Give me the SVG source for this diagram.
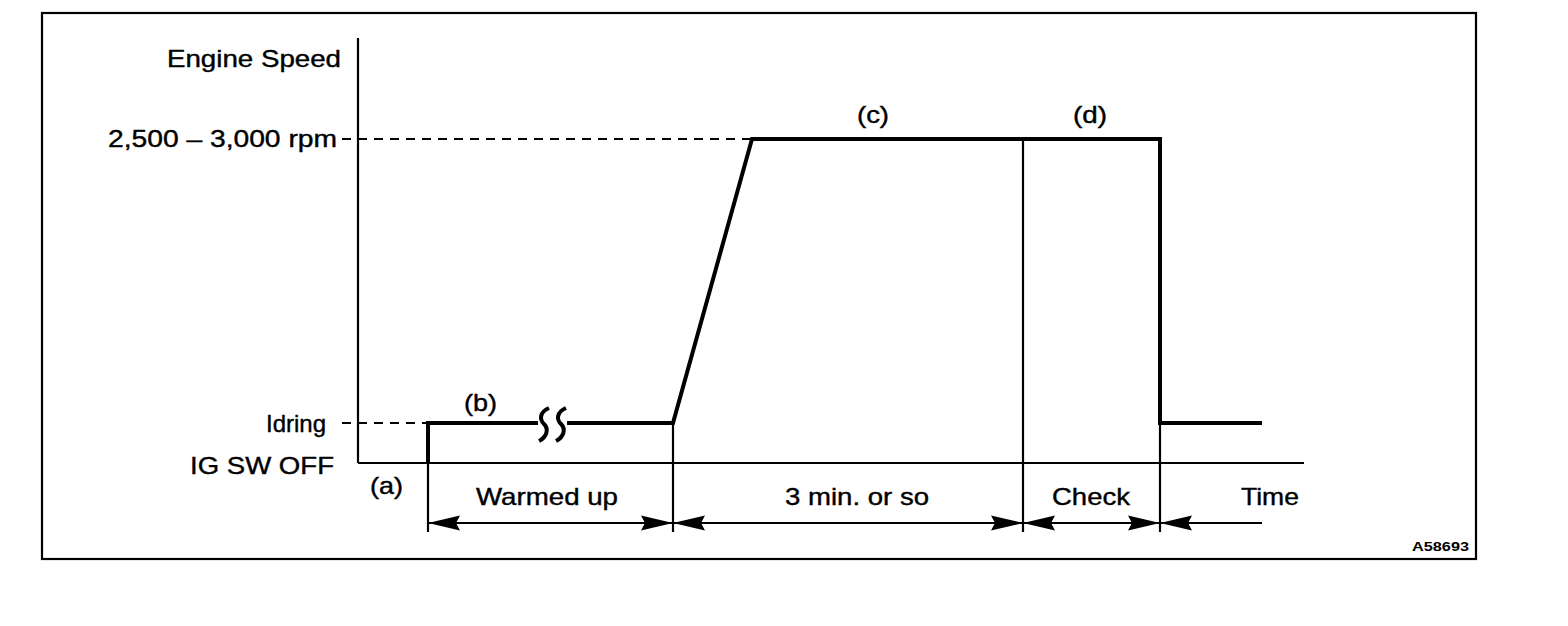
<svg xmlns="http://www.w3.org/2000/svg" width="1568" height="626" viewBox="0 0 1568 626">
<style>
.t{font-family:"Liberation Sans",Arial,sans-serif;font-size:24px;fill:#000;stroke:#000;stroke-width:0.4}
.s{font-family:"Liberation Sans",Arial,sans-serif;font-size:12px;font-weight:bold;fill:#000}
.thin{stroke:#000;stroke-width:2.2;fill:none}
.thick{stroke:#000;stroke-width:4;fill:none;stroke-linejoin:miter}
.dash{stroke:#000;stroke-width:2;fill:none;stroke-dasharray:9,7}
.ah{fill:#000}
</style>
<rect width="1568" height="626" fill="#fff"/>
<g id="frame">
<rect x="42" y="13" width="1434" height="546" class="thin"/>
<text class="s" x="1412" y="551" textLength="57" lengthAdjust="spacingAndGlyphs">A58693</text>
</g>
<g id="axes">
<line x1="358" y1="38" x2="358" y2="463" class="thin"/>
<line x1="358" y1="463" x2="1304" y2="463" class="thin"/>
<text class="t" x="167" y="67" textLength="174" lengthAdjust="spacingAndGlyphs">Engine Speed</text>
<text class="t" x="108" y="147" textLength="229" lengthAdjust="spacingAndGlyphs">2,500 – 3,000 rpm</text>
<text class="t" x="266" y="432" textLength="60" lengthAdjust="spacingAndGlyphs">Idring</text>
<text class="t" x="190" y="474" textLength="144" lengthAdjust="spacingAndGlyphs">IG SW OFF</text>
<text class="t" x="1241" y="505" textLength="58" lengthAdjust="spacingAndGlyphs">Time</text>
</g>
<g id="connectors">
<line x1="342" y1="139" x2="752" y2="139" class="dash"/>
<line x1="342" y1="423" x2="428" y2="423" class="dash"/>
<line x1="428" y1="463" x2="428" y2="532" class="thin"/>
<line x1="673" y1="423" x2="673" y2="532" class="thin"/>
<line x1="1023" y1="139" x2="1023" y2="532" class="thin"/>
<line x1="1160" y1="423" x2="1160" y2="532" class="thin"/>
<line x1="428" y1="523" x2="1262" y2="523" class="thin"/>
<polygon class="ah" points="428,523 460,515.5 456,523 460,530.5"/>
<polygon class="ah" points="673,523 641,515.5 645,523 641,530.5"/>
<polygon class="ah" points="673,523 705,515.5 701,523 705,530.5"/>
<polygon class="ah" points="1023,523 991,515.5 995,523 991,530.5"/>
<polygon class="ah" points="1023,523 1055,515.5 1051,523 1055,530.5"/>
<polygon class="ah" points="1160,523 1128,515.5 1132,523 1128,530.5"/>
<polygon class="ah" points="1160,523 1192,515.5 1188,523 1192,530.5"/>
</g>
<g id="profile">
<path class="thick" d="M428,463 L428,423 L538,423"/>
<path class="thick" d="M567,423 L673,423 L752,139 L1160,139 L1160,423 L1262,423"/>
<path class="thick" d="M549,408 C540,412 539,419 544,424 C549,429 547,437 539,441"/>
<path class="thick" d="M566,408 C557,412 556,419 561,424 C566,429 564,437 556,441"/>
</g>
<g id="labels">
<text class="t" x="370" y="494" textLength="33" lengthAdjust="spacingAndGlyphs">(a)</text>
<text class="t" x="464" y="411" textLength="33" lengthAdjust="spacingAndGlyphs">(b)</text>
<text class="t" x="857" y="123" textLength="32" lengthAdjust="spacingAndGlyphs">(c)</text>
<text class="t" x="1073" y="123" textLength="34" lengthAdjust="spacingAndGlyphs">(d)</text>
<text class="t" x="476" y="505" textLength="142" lengthAdjust="spacingAndGlyphs">Warmed up</text>
<text class="t" x="785" y="505" textLength="144" lengthAdjust="spacingAndGlyphs">3 min. or so</text>
<text class="t" x="1052" y="505" textLength="78" lengthAdjust="spacingAndGlyphs">Check</text>
</g>
</svg>
